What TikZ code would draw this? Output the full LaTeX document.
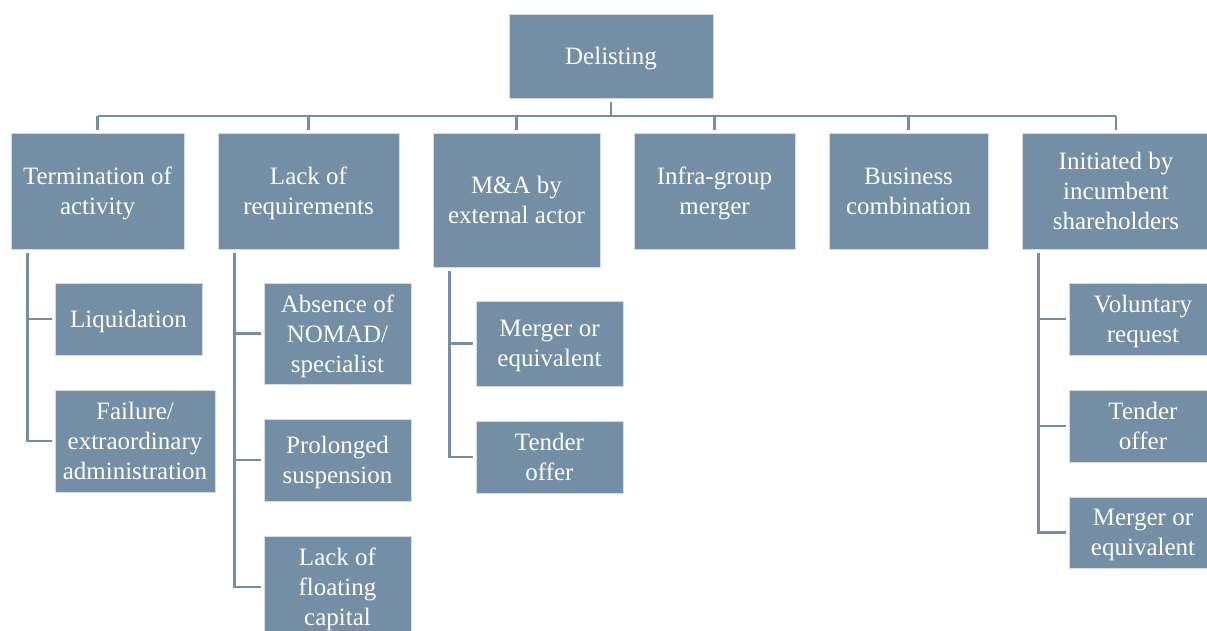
\documentclass[tikz,border=0pt]{standalone}
\usepackage{fontspec}
\setmainfont{Liberation Serif}
\usepackage{xcolor}
\usepackage{tikz}
\usetikzlibrary{positioning, calc}

\definecolor{slateblue}{RGB}{115,142,165}

\begin{document}
\begin{tikzpicture}[
  x=1pt, y=-1pt,
  box/.style={fill=slateblue, draw=white!70!slateblue, line width=0.6pt, text=white,
    align=center, inner sep=0pt, text depth=0pt, font=\fontsize{25}{30}\selectfont},
  link/.style={draw=slateblue, line width=2.8pt}
]
\useasboundingbox (0,0) rectangle (1207,631);

% ROOT
\node[box, minimum width=204pt, minimum height=84pt] (delist) at (611,56) {Delisting};
\coordinate (bus) at (611,116);

% FIRST LEVEL
\node[box, minimum width=173pt, minimum height=116pt] (term) at (97.5,191) {Termination of\\activity};
\node[box, minimum width=181pt, minimum height=116pt] (lack) at (308.5,191) {Lack of\\requirements};
\node[box, minimum width=167pt, minimum height=134pt] (mna) at (516.5,200) {M\&A by\\external actor};
\node[box, minimum width=161pt, minimum height=116pt] (infra) at (714.5,191) {Infra-group\\merger};
\node[box, minimum width=159pt, minimum height=116pt] (busi) at (908.5,191) {Business\\combination};
\node[box, minimum width=188pt, minimum height=116pt] (init) at (1116,191) {Initiated by\\incumbent\\shareholders};

% Connections from root
\draw[link, shorten <=4pt] (delist.south) -- (bus);
\draw[link] (term.north |- bus) -- (init.north |- bus);
\foreach \n in {term,lack,mna,infra,busi,init}
  \draw[link, shorten >=3pt] (\n.north |- bus) -- (\n.north);

% TERMINATION OF ACTIVITY
\node[box, minimum width=147pt, minimum height=72pt] (liq) at (128.5,319) {Liquidation};
\node[box, minimum width=160pt, minimum height=102pt] (fail) at (135,441) {Failure/\\extraordinary\\administration};

% LACK OF REQUIREMENTS
\node[box, minimum width=147pt, minimum height=101pt] (nomad) at (337.5,333.5) {Absence of\\NOMAD/\\specialist};
\node[box, minimum width=147pt, minimum height=82pt] (susp) at (337.5,460) {Prolonged\\suspension};
\node[box, minimum width=147pt, minimum height=102pt] (float) at (337.5,587) {Lack of\\floating\\capital};

% M&A BY EXTERNAL ACTOR
\node[box, minimum width=147pt, minimum height=85pt] (mergext) at (549.5,343.5) {Merger or\\equivalent};
\node[box, minimum width=147pt, minimum height=72pt] (tendext) at (549.5,457) {Tender\\offer};

% INITIATED BY SHAREHOLDERS
\node[box, minimum width=148pt, minimum height=72pt] (volreq) at (1143,319) {Voluntary\\request};
\node[box, minimum width=148pt, minimum height=72pt] (tendinc) at (1143,426) {Tender\\offer};
\node[box, minimum width=148pt, minimum height=71pt] (mergeinc) at (1143,532.5) {Merger or\\equivalent};

% Trunks
\coordinate (termtrunk) at ($(term.south west)+(16.5,4)$);
\coordinate (lacktrunk) at ($(lack.south west)+(16.5,4)$);
\coordinate (mnatrunk) at ($(mna.south west)+(16.5,4)$);
\coordinate (inittrunk) at ($(init.south west)+(16.5,4)$);

\foreach \c in {liq,fail}
  \draw[link, shorten >=3pt] (termtrunk) |- (\c.west);
\foreach \c in {nomad,susp,float}
  \draw[link, shorten >=3pt] (lacktrunk) |- (\c.west);
\foreach \c in {mergext,tendext}
  \draw[link, shorten >=3pt] (mnatrunk) |- (\c.west);
\foreach \c in {volreq,tendinc,mergeinc}
  \draw[link, shorten >=3pt] (inittrunk) |- (\c.west);

\end{tikzpicture}
\end{document}
